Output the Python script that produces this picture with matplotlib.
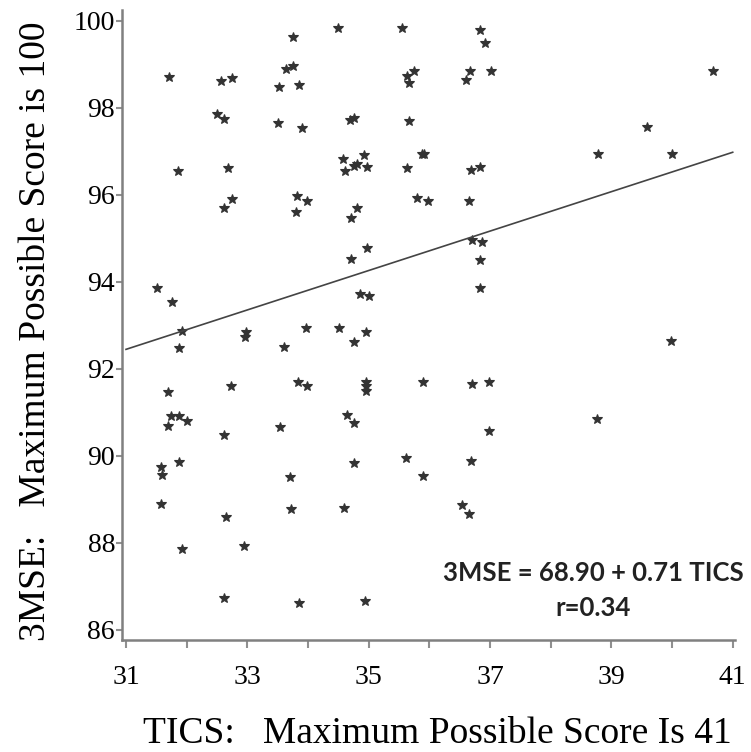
import numpy as np
import matplotlib
matplotlib.use("Agg")
import matplotlib.pyplot as plt

# TICS score (x) and 3MSE score (y)
tics = [34.50, 35.55, 33.75, 31.71, 32.56, 32.75, 33.64, 33.76, 33.52, 33.85,
        35.63, 35.74, 35.66, 32.50, 32.61, 33.50, 33.90, 34.70, 34.75, 35.66,
        31.86, 32.68, 34.57, 34.61, 34.75, 34.81, 34.93, 34.97, 35.63, 35.88,
        35.92, 32.62, 32.75, 33.82, 33.99, 33.81, 34.81, 34.71, 35.80, 35.97,
        34.97, 34.71, 31.51, 31.75, 34.85, 35.00, 36.84, 36.91, 36.67, 37.01,
        36.60, 40.68, 39.58, 38.78, 40.00, 36.69, 36.83, 36.65, 36.70, 36.87,
        36.84, 36.84, 31.92, 31.87, 32.98, 32.96, 33.97, 33.61, 34.51, 34.96,
        34.76, 31.69, 32.73, 33.83, 33.99, 34.96, 34.95, 34.95, 35.90, 31.74,
        31.87, 32.00, 31.70, 32.62, 33.54, 34.65, 34.76, 31.58, 31.59, 31.87,
        33.71, 34.75, 35.62, 35.90, 31.58, 32.65, 33.72, 34.59, 31.92, 32.94,
        32.62, 33.85, 34.94, 36.70, 36.99, 39.98, 38.76, 36.99, 36.69, 36.53,
        36.65]
mse = [99.83, 99.83, 99.62, 98.71, 98.62, 98.69, 98.89, 98.96, 98.47, 98.52,
       98.73, 98.85, 98.58, 97.87, 97.74, 97.66, 97.53, 97.72, 97.76, 97.70,
       96.55, 96.62, 96.83, 96.55, 96.67, 96.70, 96.91, 96.63, 96.62, 96.93,
       96.93, 95.70, 95.90, 95.97, 95.86, 95.60, 95.69, 95.48, 95.92, 95.86,
       94.79, 94.52, 93.87, 93.53, 93.72, 93.67, 99.79, 99.50, 98.85, 98.85,
       98.64, 98.85, 97.55, 96.93, 96.93, 96.57, 96.65, 95.86, 94.96, 94.92,
       94.50, 93.85, 92.88, 92.49, 92.86, 92.74, 92.93, 92.51, 92.93, 92.86,
       92.61, 91.48, 91.61, 91.71, 91.61, 91.71, 91.61, 91.50, 91.69, 90.92,
       90.92, 90.81, 90.69, 90.48, 90.66, 90.94, 90.75, 89.75, 89.56, 89.85,
       89.52, 89.83, 89.96, 89.54, 88.90, 88.60, 88.78, 88.81, 87.86, 87.93,
       86.73, 86.61, 86.67, 91.65, 91.69, 92.65, 90.86, 90.57, 89.89, 88.87,
       88.67]

# fitted line as drawn (end points)
fit_x = [31, 41]
fit_y = [92.45, 96.98]

x_ticks = [31, 33, 35, 37, 39, 41]
y_ticks = [86, 88, 90, 92, 94, 96, 98, 100]

serif = "Liberation Serif"

fig = plt.figure(figsize=(7.51, 7.52), dpi=100)
ax = fig.add_axes([0.16245, 0.14894, 0.81625, 0.83777])

ax.plot(tics, mse, linestyle="none", marker="*", markersize=7,
        color="#333333", markeredgewidth=0.8)
ax.plot(fit_x, fit_y, color="#444444", linewidth=1.2)

ax.set_xlim(30.934, 41.038)
ax.set_ylim(85.77, 100.25)

ax.set_xticks(range(31, 42), minor=False)
ax.set_xticklabels([str(v) if v in x_ticks else "" for v in range(31, 42)],
                   fontsize=20, family=serif)
ax.set_yticks(y_ticks)
ax.set_yticklabels([str(v) for v in y_ticks], fontsize=20, family=serif)

for side in ["top", "right"]:
    ax.spines[side].set_visible(False)
for side in ["left", "bottom"]:
    ax.spines[side].set_color("#808080")
    ax.spines[side].set_linewidth(1.8)

ax.tick_params(axis="x", direction="out", length=6, width=1.5,
               color="#909090", pad=12)
ax.tick_params(axis="y", direction="out", length=4, width=1.5,
               color="#909090", pad=1)

ax.text(38.70, 87.31, "3MSE = 68.90 + 0.71 TICS", ha="center", va="center",
        fontsize=18.5, family="Lato", fontweight="bold", color="#222222")
ax.text(38.70, 86.51, "r=0.34", ha="center", va="center",
        fontsize=18.5, family="Lato", fontweight="bold", color="#222222")

fig.text(0.582, 0.012, "TICS:   Maximum Possible Score Is 41",
         ha="center", va="baseline", fontsize=27, family=serif)
fig.text(0.0599, 0.56, "3MSE:   Maximum Possible Score is 100",
         rotation=90, rotation_mode="anchor", ha="center", va="baseline",
         fontsize=27, family=serif)

fig.savefig("out.png", dpi=100)
